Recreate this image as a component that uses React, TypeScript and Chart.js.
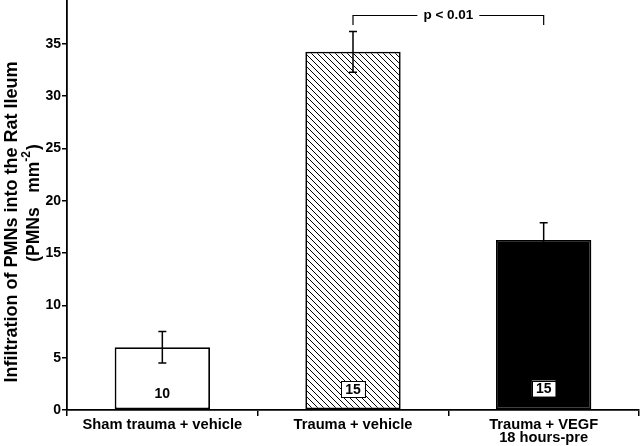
import React, { useEffect, useRef } from "react";
import { Chart, registerables } from "chart.js";

Chart.register(...registerables);

const FONT = '"Liberation Sans", Arial, Helvetica, sans-serif';

// ---- data ----
const categories = [["Sham trauma + vehicle"], ["Trauma + vehicle"], ["Trauma + VEGF", "18 hours-pre"]];
const means = [6.0, 34.25, 16.25];
const sem = [1.5, 1.95, 1.65];
const nLabels = ["10", "15", "15"];
const nLabelBoxed = [false, true, true];
const nLabelValue = [1.65, 2.0, 2.05];
const yMin = 0;
const yMax = 39.2;
const yStep = 5;
const pText = "p < 0.01";
const bracketValue = 37.76;
const bracketLegValue = 36.8;
const bracketFrom = 1;
const bracketTo = 2;
const yTitle1 = "Infiltration of PMNs into the Rat Ileum";
const yTitle2a = "(PMNs   mm";
const yTitle2sup = "-2";
const yTitle2b = ")";

function makeHatch(): CanvasPattern | string {
  const c = document.createElement("canvas");
  c.width = 6;
  c.height = 6;
  const g = c.getContext("2d");
  if (!g) return "#888";
  g.fillStyle = "#fff";
  g.fillRect(0, 0, 6, 6);
  g.strokeStyle = "#000";
  g.lineWidth = 1;
  g.beginPath();
  g.moveTo(-1, -1);
  g.lineTo(7, 7);
  g.moveTo(-1, 5);
  g.lineTo(1, 7);
  g.moveTo(5, -1);
  g.lineTo(7, 1);
  g.stroke();
  const p = g.createPattern(c, "repeat");
  return p || "#888";
}

const overlayPlugin = {
  id: "overlay",
  afterDatasetsDraw(chart: any) {
    const ctx: CanvasRenderingContext2D = chart.ctx;
    const y = chart.scales.y;
    const meta = chart.getDatasetMeta(0);
    ctx.save();
    // error bars
    ctx.strokeStyle = "#000";
    ctx.lineWidth = 1.5;
    means.forEach((m, i) => {
      const cx = meta.data[i].x;
      const yt = y.getPixelForValue(m + sem[i]);
      const yb = y.getPixelForValue(m - sem[i]);
      ctx.beginPath();
      ctx.moveTo(cx, yt);
      ctx.lineTo(cx, yb);
      ctx.moveTo(cx - 4, yt);
      ctx.lineTo(cx + 4, yt);
      ctx.moveTo(cx - 4, yb);
      ctx.lineTo(cx + 4, yb);
      ctx.stroke();
    });
    // n labels
    ctx.font = `bold 14px ${FONT}`;
    ctx.textAlign = "center";
    ctx.textBaseline = "middle";
    nLabels.forEach((t, i) => {
      const cx = meta.data[i].x;
      const cy = y.getPixelForValue(nLabelValue[i]);
      if (nLabelBoxed[i]) {
        const w = ctx.measureText(t).width + 8;
        const h = 16;
        ctx.fillStyle = "#fff";
        ctx.fillRect(cx - w / 2, cy - h / 2, w, h);
        ctx.lineWidth = 1;
        ctx.strokeStyle = "#000";
        ctx.strokeRect(Math.round(cx - w / 2) + 0.5, Math.round(cy - h / 2) + 0.5, Math.round(w), h);
      }
      ctx.fillStyle = "#000";
      ctx.fillText(t, cx, cy + 1);
    });
    // significance bracket
    const x1 = meta.data[bracketFrom].x;
    const x2 = meta.data[bracketTo].x;
    const by = Math.round(y.getPixelForValue(bracketValue)) + 0.5;
    const ly = y.getPixelForValue(bracketLegValue);
    ctx.font = `bold 13.5px ${FONT}`;
    const tw = ctx.measureText(pText).width;
    const mid = (x1 + x2) / 2;
    ctx.strokeStyle = "#000";
    ctx.lineWidth = 1.2;
    ctx.beginPath();
    ctx.moveTo(x1, ly);
    ctx.lineTo(x1, by);
    ctx.lineTo(mid - tw / 2 - 6, by);
    ctx.moveTo(mid + tw / 2 + 6, by);
    ctx.lineTo(x2, by);
    ctx.lineTo(x2, ly);
    ctx.stroke();
    ctx.fillStyle = "#000";
    ctx.textAlign = "center";
    ctx.textBaseline = "middle";
    ctx.fillText(pText, mid, by);
    ctx.restore();
  },
  afterDraw(chart: any) {
    const ctx: CanvasRenderingContext2D = chart.ctx;
    const area = chart.chartArea;
    const cy = (area.top + area.bottom) / 2;
    ctx.save();
    ctx.fillStyle = "#000";
    // line 1
    ctx.translate(12, cy + 17);
    ctx.rotate(-Math.PI / 2);
    ctx.font = `bold 18px ${FONT}`;
    ctx.textAlign = "center";
    ctx.textBaseline = "middle";
    ctx.fillText(yTitle1, 0, 0);
    ctx.restore();
    // line 2 with superscript
    ctx.save();
    ctx.fillStyle = "#000";
    ctx.translate(34, cy - 2);
    ctx.rotate(-Math.PI / 2);
    const big = `bold 17.5px ${FONT}`;
    const small = `bold 12px ${FONT}`;
    ctx.textBaseline = "middle";
    ctx.textAlign = "left";
    ctx.font = big;
    const wa = ctx.measureText(yTitle2a).width;
    const wb = ctx.measureText(yTitle2b).width;
    ctx.font = small;
    const ws = ctx.measureText(yTitle2sup).width;
    let x = -(wa + ws + wb + 1) / 2;
    ctx.font = big;
    ctx.fillText(yTitle2a, x, 0);
    x += wa;
    ctx.font = small;
    ctx.fillText(yTitle2sup, x, -7);
    x += ws + 1;
    ctx.font = big;
    ctx.fillText(yTitle2b, x, 0);
    ctx.restore();
  },
};

export default function App() {
  const ref = useRef<HTMLCanvasElement | null>(null);
  useEffect(() => {
    document.body.style.margin = "0";
    const canvas = ref.current;
    if (!canvas) return;
    const hatch = makeHatch();
    const chart = new Chart(canvas, {
      type: "bar",
      data: {
        labels: categories as any,
        datasets: [
          {
            data: means,
            backgroundColor: ["#ffffff", hatch as any, "#000000"],
            borderColor: "#000",
            borderWidth: 1.8,
            borderSkipped: false,
            barPercentage: 0.5,
            categoryPercentage: 1.0,
          },
        ],
      },
      options: {
        responsive: false,
        animation: false,
        devicePixelRatio: 1,
        layout: { padding: { top: 0, right: 1, bottom: 0, left: 0 } },
        plugins: {
          legend: { display: false },
          tooltip: { enabled: false },
          title: { display: false },
        },
        scales: {
          x: {
            type: "category",
            offset: true,
            grid: {
              display: true,
              offset: true,
              drawOnChartArea: false,
              drawTicks: true,
              tickLength: 6,
              color: "#000",
              lineWidth: 1.5,
            },
            border: { display: true, color: "#000", width: 1.8 },
            ticks: {
              color: "#000",
              font: { family: FONT, size: 14.7, weight: "bold", lineHeight: 0.9 },
              padding: 2,
              maxRotation: 0,
              autoSkip: false,
            },
            afterFit: (s: any) => {
              s.height = 36;
              s.paddingLeft = 0;
              s.paddingRight = 0;
            },
          },
          y: {
            min: yMin,
            max: yMax,
            grid: {
              display: true,
              drawOnChartArea: false,
              drawTicks: true,
              tickLength: 5,
              color: "#000",
              lineWidth: 1.5,
            },
            border: { display: true, color: "#000", width: 1.8 },
            ticks: {
              stepSize: yStep,
              includeBounds: false,
              color: "#000",
              font: { family: FONT, size: 14, weight: "bold" },
              padding: 1,
            },
            afterFit: (s: any) => {
              s.width = 67;
              s.paddingTop = 0;
              s.paddingBottom = 0;
            },
          },
        },
      },
      plugins: [overlayPlugin],
    });
    return () => chart.destroy();
  }, []);
  return (
    <div style={{ width: 640, height: 446, position: "relative" }}>
      <canvas ref={ref} width={640} height={446} style={{ display: "block", width: 640, height: 446 }} />
    </div>
  );
}
